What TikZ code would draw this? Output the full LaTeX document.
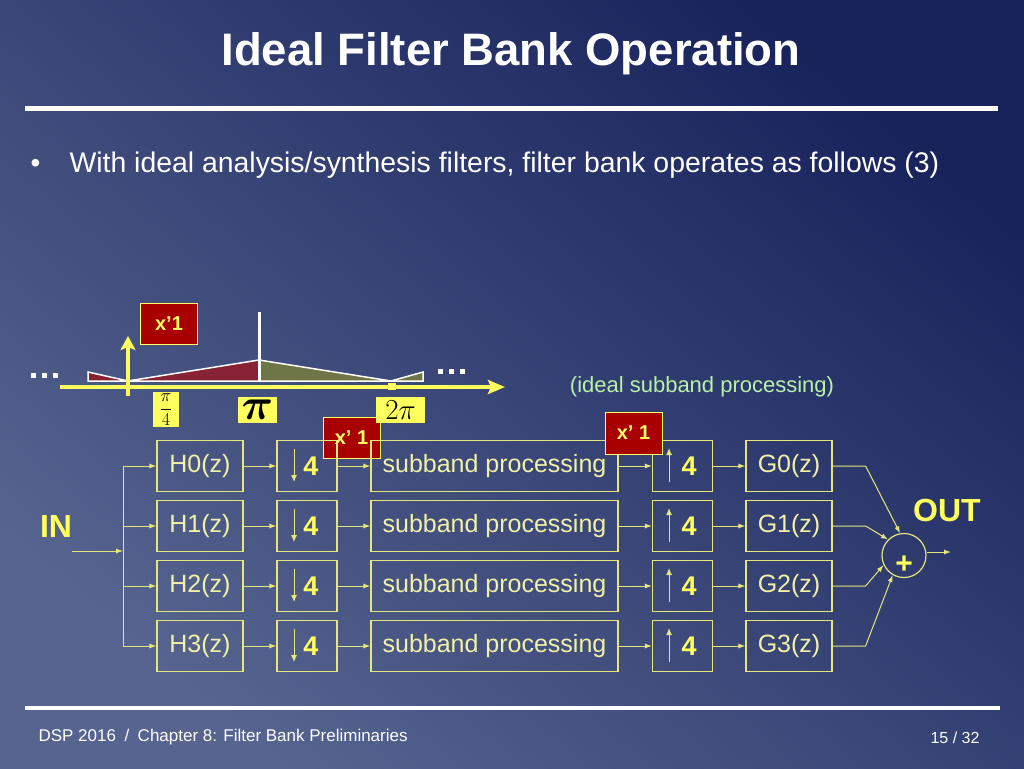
\documentclass[tikz,border=0pt]{standalone}
\usepackage{fix-cm}
\usepackage[no-math]{fontspec}
\setmainfont{Liberation Sans}
\usepackage{bm}
\usetikzlibrary{arrows.meta,positioning}
\definecolor{bgdark}{HTML}{18235C}
\definecolor{bgmid}{HTML}{36437A}
\definecolor{bglight}{HTML}{56648F}
\definecolor{wireyel}{HTML}{E6E67A}
\definecolor{boxtxt}{HTML}{F2F2A6}
\definecolor{hotyel}{HTML}{FFFF5E}
\definecolor{xred}{HTML}{A80000}
\definecolor{bandred}{HTML}{862233}
\definecolor{bandgreen}{HTML}{6E7547}
\definecolor{notegreen}{HTML}{B8F2A8}
\begin{document}
\begin{tikzpicture}[x=1pt,y=-1pt,
    blk/.style={draw=wireyel, line width=1.2pt, minimum height=51pt, inner sep=0pt,
                text=boxtxt, font=\fontsize{25}{25}\selectfont},
    hbox/.style={blk, minimum width=86pt},
    rate/.style={blk, minimum width=60pt, text=hotyel, font=\fontsize{27}{27}\selectfont\bfseries},
    subbox/.style={blk, minimum width=247pt},
    sig/.style={draw=wireyel, line width=1pt, -{Latex[length=7pt,width=5pt]}},
    ratearrow/.style={draw=wireyel, line width=1pt, -{Latex[length=7pt,width=6pt]}},
    xtag/.style={fill=xred, draw=hotyel, line width=0.8pt, text=hotyel, inner sep=0pt,
                 minimum width=57pt, minimum height=41pt, font=\fontsize{20}{20}\selectfont\bfseries},
    ytag/.style={fill=hotyel, text=black, inner sep=0pt},
    bigtxt/.style={text=hotyel, font=\fontsize{32}{32}\selectfont\bfseries}]
\shade[top color=bgdark, middle color=bgmid, bottom color=bglight, shading angle=-40] (0,0) rectangle (1024,768);

% title and rules
\node[anchor=base, text=white, font=\fontsize{45.5}{45.5}\selectfont\bfseries] (title) at (511,66) {Ideal Filter Bank Operation};
\draw[white, line width=5pt] (25,108) -- (998,108);
\node[anchor=base west, text=white, font=\fontsize{28}{28}\selectfont] (bul) at (27,172) {•};
\node[anchor=base west, text=white, font=\fontsize{28.4}{28.4}\selectfont] (body) at (66,172) {With ideal analysis/synthesis filters, filter bank operates as follows (3)};
\draw[white, line width=4pt] (25,708) -- (1000,708);
\node[anchor=base west, text=white, font=\fontsize{17}{17}\selectfont] (foot) at (35,741) {DSP 2016\enspace/\enspace Chapter 8: Filter Bank Preliminaries};
\node[anchor=base east, text=white, font=\fontsize{16}{16}\selectfont] (page) at (983,743) {15 / 32};

% spectrum
\filldraw[fill=bandred, draw=white, line width=1.5pt] (88,372) -- (128,381) -- (88,381) -- cycle;
\filldraw[fill=bandred, draw=white, line width=1.5pt] (128,381) -- (259,360) -- (259,381) -- cycle;
\filldraw[fill=bandgreen, draw=white, line width=1.5pt] (259,360) -- (391,381) -- (259,381) -- cycle;
\filldraw[fill=bandgreen, draw=white, line width=1.5pt] (391,381) -- (423,372) -- (423,381) -- cycle;
\draw[white, line width=3pt] (259,312) -- (259,381);
\draw[hotyel, line width=4pt, -{Stealth[length=17pt,width=14pt,inset=3pt]}] (60,387) -- (505,387);
\draw[hotyel, line width=4pt, -{Stealth[length=14pt,width=15pt,inset=3pt]}] (128,396) -- (128,336);
\fill[hotyel] (388,383) rectangle (396,390);
\foreach \dx in {0,11,22} {
  \fill[white] (31+\dx,373) rectangle ++(5,5);
  \fill[white] (438+\dx,369) rectangle ++(5,5);
}
\node[xtag] (xa) at (169,323.5) {x’1};
\node[ytag, minimum width=26pt, minimum height=35pt, font=\fontsize{18}{18}\selectfont] (q4) at (166,409.5) {$\displaystyle\frac{\pi}{4}$};
\node[ytag, minimum width=39pt, minimum height=26pt, font=\fontsize{44}{44}\selectfont] (p1) at (257.5,410) {$\bm{\pi}$};
\node[xtag] (xb) at (351.5,438) {x’ 1};
\node[ytag, minimum width=49pt, minimum height=26pt, font=\fontsize{29}{29}\selectfont] (p2) at (400.5,410) {$2\pi$};
\node[text=notegreen, font=\fontsize{22}{22}\selectfont] (note) at (702,387) {(ideal subband processing)};

% filter bank
\node[bigtxt] (in) at (56,526) {IN};
\coordinate (src) at (72,551);
\coordinate (bus) at (123,551);
\draw[sig] (src) -- (bus);
\draw[wireyel, line width=1pt] (123,466) -- (123,646);
\foreach \i in {0,...,3} {
  \pgfmathsetmacro\yy{466+60*\i}
  \node[hbox] (h\i) at (200,\yy) {H\i(z)};
  \node[rate] (d\i) at (307,\yy) {\hspace*{8pt}4};
  \node[subbox] (s\i) at (494.5,\yy) {subband processing};
  \node[rate] (u\i) at (682.5,\yy) {\hspace*{13pt}4};
  \node[hbox] (g\i) at (789,\yy) {G\i(z)};
  \draw[ratearrow] (294,{\yy-17}) -- (294,{\yy+16});
  \draw[ratearrow] (669,{\yy+16}) -- (669,{\yy-18});
  \draw[sig] (123,\yy) -- (h\i);
  \draw[sig] (h\i) -- (d\i);
  \draw[sig] (d\i) -- (s\i);
  \draw[sig] (s\i) -- (u\i);
  \draw[sig] (u\i) -- (g\i);
}
\node[xtag, minimum height=42pt] (xc) at (633.5,433) {x’ 1};
\node[circle, draw=wireyel, line width=1.2pt, minimum size=44pt, inner sep=0pt] (sum) at (904,555.5) {};
\node[text=hotyel, font=\fontsize{30}{30}\selectfont\bfseries] (plus) at ([yshift=-9pt]sum.center) {+};
\draw[sig] (g0.east) -- ++(33,0) -- (sum.100);
\draw[sig] (g1.east) -- ++(33,0) -- (sum.135);
\draw[sig] (g2.east) -- ++(33,0) -- (sum.205);
\draw[sig] (g3.east) -- ++(33,0) -- (sum.240);
\coordinate (out) at (951,552);
\draw[sig] (sum.east |- out) -- (out);
\node[bigtxt] (outl) at (947,510) {OUT};
\end{tikzpicture}
\end{document}
